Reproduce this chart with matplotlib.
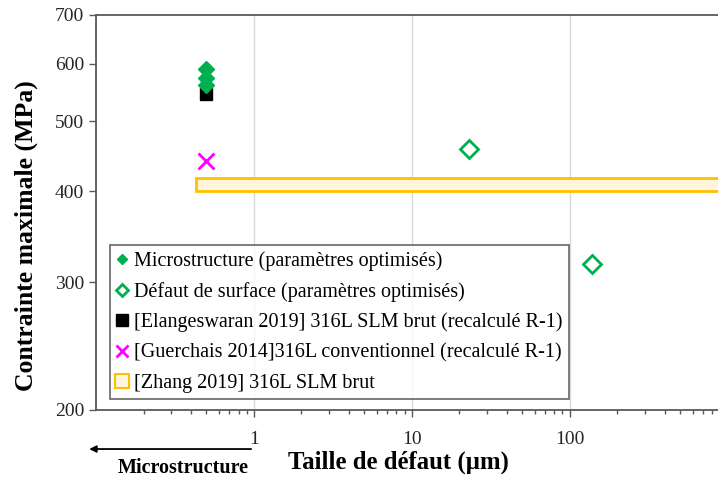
import matplotlib.pyplot as plt
from matplotlib.lines import Line2D
from matplotlib.patches import Rectangle

plt.rcParams['font.family'] = ['Liberation Serif', 'DejaVu Serif']

# Microstructure (paramètres optimisés)
micro_x = [0.5, 0.5, 0.5]
micro_y = [590, 573, 560]
# Défaut de surface (paramètres optimisés)
surf_x = [23, 138]
surf_y = [458, 318]
# [Elangeswaran 2019]
elang_x = [0.5]
elang_y = [545]
# [Guerchais 2014]
guer_x = [0.5]
guer_y = [440]
# [Zhang 2019] : plage de taille / contrainte
zhang_x = [0.43, 1000]
zhang_y = [400, 418]

green = '#00B050'
magenta = '#FF00FF'
orange = '#FFC000'
cream = '#FFF4DC'
axis_col = '#595959'

fig = plt.figure(figsize=(7.18, 4.8), dpi=100)
ax = fig.add_axes([96 / 718, 70 / 480, 622 / 718, 395 / 480])

ax.set_xscale('log')
ax.set_yscale('log')
ax.set_xlim(0.1, 870)
ax.set_ylim(200, 700)

ax.add_patch(Rectangle((zhang_x[0], zhang_y[0]), zhang_x[1] - zhang_x[0],
                       zhang_y[1] - zhang_y[0], facecolor=cream,
                       edgecolor=orange, linewidth=2, zorder=2))
ax.plot(micro_x, micro_y, 'D', color=green, markersize=8, zorder=4)
ax.plot(surf_x, surf_y, 'D', markerfacecolor='none', markeredgecolor=green,
        markeredgewidth=2, markersize=9.5, zorder=4)
ax.plot(elang_x, elang_y, 's', color='black', markersize=8.5, zorder=3)
ax.plot(guer_x, guer_y, 'x', color=magenta, markersize=11,
        markeredgewidth=2, zorder=4)

# axes et graduations
yticks = [200, 300, 400, 500, 600, 700]
ax.set_yticks(yticks)
ax.set_yticklabels([str(v) for v in yticks])
ax.yaxis.set_minor_locator(plt.NullLocator())
ax.set_xticks([1, 10, 100])
ax.set_xticklabels(['1', '10', '100'])
ax.tick_params(axis='both', which='major', labelsize=14, colors=axis_col,
               labelcolor='#262626', length=5, width=1)
ax.tick_params(axis='x', which='minor', length=3, width=1, colors=axis_col)
ax.tick_params(axis='x', which='major', pad=10)
ax.xaxis.grid(True, which='major', color='#D9D9D9', linewidth=1)
ax.set_axisbelow(True)
for s in ['left', 'bottom', 'top']:
    ax.spines[s].set_color(axis_col)
    ax.spines[s].set_linewidth(1.3)
ax.spines['right'].set_visible(False)

handles = [
    Line2D([], [], linestyle='none', marker='D', color=green, markersize=5),
    Line2D([], [], linestyle='none', marker='D', markerfacecolor='none',
           markeredgecolor=green, markeredgewidth=2, markersize=6),
    Line2D([], [], linestyle='none', marker='s', color='black', markersize=8),
    Line2D([], [], linestyle='none', marker='x', color=magenta, markersize=9,
           markeredgewidth=2),
    Line2D([], [], linestyle='none', marker='s', markerfacecolor=cream,
           markeredgecolor=orange, markeredgewidth=1.5, markersize=10),
]
labels = [
    'Microstructure (paramètres optimisés)',
    'Défaut de surface (paramètres optimisés)',
    '[Elangeswaran 2019] 316L SLM brut (recalculé R-1)',
    '[Guerchais 2014]316L conventionnel (recalculé R-1)',
    '[Zhang 2019] 316L SLM brut',
]
leg = ax.legend(handles, labels, loc='upper left', bbox_to_anchor=(0.0225, 0.418),
                borderaxespad=0, fontsize=14.5, frameon=True, fancybox=False,
                edgecolor='#404040', handlelength=0.6, handletextpad=0.3,
                labelspacing=0.55, borderpad=0.3)
leg.get_frame().set_linewidth(1.2)

# flèche "Microstructure" sous l'axe
ax.annotate('', xy=(0.087, 0.0645), xytext=(1, 0.0645),
            xycoords=('data', 'figure fraction'),
            textcoords=('data', 'figure fraction'),
            arrowprops=dict(arrowstyle='-|>', color='black', lw=1.3,
                            mutation_scale=10), annotation_clip=False)
ax.text(0.357, (12 / 480 - 70 / 480) / (395 / 480), 'Microstructure',
        transform=ax.get_xaxis_transform(), fontsize=14.5,
        fontweight='bold', ha='center', va='center')

fig.text(398 / 718, 18 / 480, 'Taille de défaut (µm)', fontsize=17.8,
         fontweight='bold', ha='center', va='center')
fig.text(26 / 718, 244 / 480, 'Contrainte maximale (MPa)', fontsize=18.5,
         fontweight='bold', ha='center', va='center', rotation=90)

fig.savefig('out.png', dpi=100)
